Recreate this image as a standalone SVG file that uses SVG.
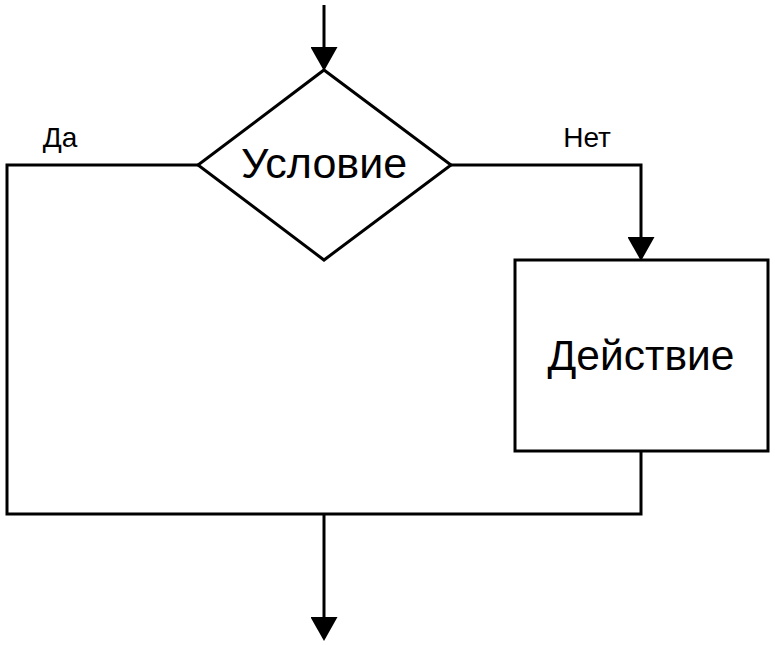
<svg xmlns="http://www.w3.org/2000/svg" width="775" height="645" viewBox="0 0 775 645">
<style>
.s{fill:#fff;stroke:#000;stroke-width:3}
.c{fill:none;stroke:#000;stroke-width:3}
.t{font-family:"Liberation Sans",Arial,sans-serif;fill:#000}
</style>
<defs>
<marker id="a" markerWidth="8" markerHeight="9" refX="7" refY="4.5" orient="auto" markerUnits="strokeWidth"><path d="M0,0 L8,4.5 L0,9 Z" fill="#000"/></marker>
</defs>
<rect width="775" height="645" fill="#fff"/>
<g id="connectors">
<path class="c" d="M324,5 V68" marker-end="url(#a)"/>
<path class="c" d="M198,165 H7 V514 H641 V451"/>
<path class="c" d="M451,165 H641 V258" marker-end="url(#a)"/>
<path class="c" d="M324,514 V638" marker-end="url(#a)"/>
<text class="t" x="60" y="147" font-size="28" text-anchor="middle">Да</text>
<text class="t" x="587" y="147" font-size="28" text-anchor="middle">Нет</text>
</g>
<g id="cond">
<polygon class="s" points="324,70 451,165 324,260 198,165"/>
<text class="t" x="324" y="178" font-size="43" text-anchor="middle">Условие</text>
</g>
<g id="action">
<rect class="s" x="515" y="260" width="253" height="191"/>
<text class="t" x="641" y="370" font-size="42.5" text-anchor="middle">Действие</text>
</g>
</svg>
